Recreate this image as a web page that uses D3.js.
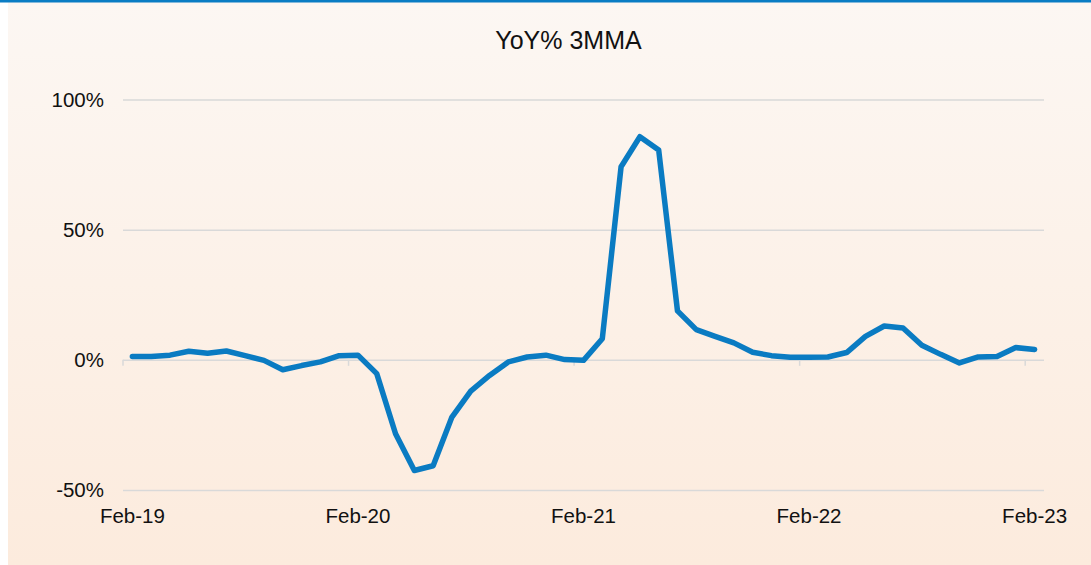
<!DOCTYPE html>
<html>
<head>
<meta charset="utf-8">
<script src="https://cdn.jsdelivr.net/npm/d3@7"></script>
<style>
  body { margin: 0; background: #ffffff; }
  svg { display: block; font-family: "Liberation Sans", Arial, sans-serif; }
</style>
</head>
<body>
<div id="chart"></div>
<script>
// monthly categories Feb-19 .. Feb-23
var months = d3.timeMonths(new Date(2019, 1, 1), new Date(2023, 2, 1))
var fmt = d3.timeFormat("%b-%y")

// YoY % change, 3 month moving average
var yoy = [
    1.3, 1.3, 1.8, 3.3, 2.5, 3.4, 1.6, -0.2, -3.8, -2.2, -0.8, 1.6,
    1.8, -5.3, -28.4, -42.5, -40.7, -22.0, -12.0, -6.0, -0.8, 1.1, 1.8, 0.1,
    -0.2, 8.1, 74.2, 85.7, 80.6, 18.8, 11.6, 9.0, 6.5, 2.9, 1.6, 1.0,
    1.0, 1.1, 2.8, 9.0, 13.0, 12.2, 5.6, 2.1, -1.2, 1.1, 1.3, 4.7,
    4.0
]
var yTicks = [-50, 0, 50, 100]
var title = "YoY% 3MMA"

var width = 1091, height = 565
var margin = {top: 99.5, right: 47, bottom: 75, left: 123}

var svg = d3.select("#chart").append("svg")
    .attr("width", width)
    .attr("height", height)

var defs = svg.append("defs")
var grad = defs.append("linearGradient")
    .attr("id", "bg")
    .attr("x1", 0).attr("y1", 0)
    .attr("x2", 0).attr("y2", 1)
grad.append("stop").attr("offset", "0%").attr("stop-color", "#fcf7f3")
grad.append("stop").attr("offset", "100%").attr("stop-color", "#fcebdd")

svg.append("rect")
    .attr("x", 8).attr("y", 2)
    .attr("width", width - 8).attr("height", height - 2)
    .attr("fill", "url(#bg)")

svg.append("rect")
    .attr("x", 0).attr("y", 0)
    .attr("width", width).attr("height", 2.5)
    .attr("fill", "#0a7dc4")

svg.append("text")
    .attr("x", 568.5)
    .attr("y", 49)
    .attr("text-anchor", "middle")
    .attr("font-size", 25)
    .attr("fill", "#111")
    .text(title)

var x = d3.scaleBand()
    .domain(months.map(function(d){ return fmt(d) }))
    .range([margin.left, width - margin.right])
    .padding(0)

var y = d3.scaleLinear()
    .domain([-50, 100])
    .range([490, margin.top])

// grid + y labels
var yAxis = svg.append("g")
    .attr("transform", "translate(" + margin.left + ",0)")
    .call(d3.axisLeft(y)
        .tickValues(yTicks)
        .tickSize(-(width - margin.right - margin.left))
        .tickPadding(19)
        .tickFormat(function(d){ return d + "%" }))
yAxis.select(".domain").remove()
yAxis.selectAll(".tick line")
    .attr("stroke", "#d9d9d9")
    .attr("stroke-width", 1.5)
yAxis.selectAll(".tick text")
    .attr("font-size", 20.5)
    .attr("fill", "#111")
    .attr("font-family", "Liberation Sans, Arial, sans-serif")

// x tick marks sit between categories, on the 0% line
var yearly = x.domain().filter(function(d, i){ return i % 12 == 0 })
svg.append("g").selectAll("line")
    .data(yearly)
    .enter().append("line")
    .attr("x1", function(d){ return x(d) })
    .attr("x2", function(d){ return x(d) })
    .attr("y1", y(0))
    .attr("y2", y(0) + 6)
    .attr("stroke", "#d9d9d9")
    .attr("stroke-width", 1.5)

var xAxis = svg.append("g")
    .attr("transform", "translate(0,508)")
    .call(d3.axisBottom(x)
        .tickValues(yearly)
        .tickSize(0)
        .tickPadding(0))
xAxis.select(".domain").remove()
xAxis.selectAll(".tick text")
    .attr("font-size", 20.5)
    .attr("fill", "#111")
    .attr("dy", "0.71em")
    .attr("font-family", "Liberation Sans, Arial, sans-serif")

var line = d3.line()
    .x(function(d, i){ return x(x.domain()[i]) + x.bandwidth() / 2 })
    .y(function(d){ return y(d) })

svg.append("path")
    .datum(yoy)
    .attr("d", line)
    .attr("fill", "none")
    .attr("stroke", "#0a7bc2")
    .attr("stroke-width", 5.5)
    .attr("stroke-linejoin", "round")
    .attr("stroke-linecap", "round")
</script>
</body>
</html>
